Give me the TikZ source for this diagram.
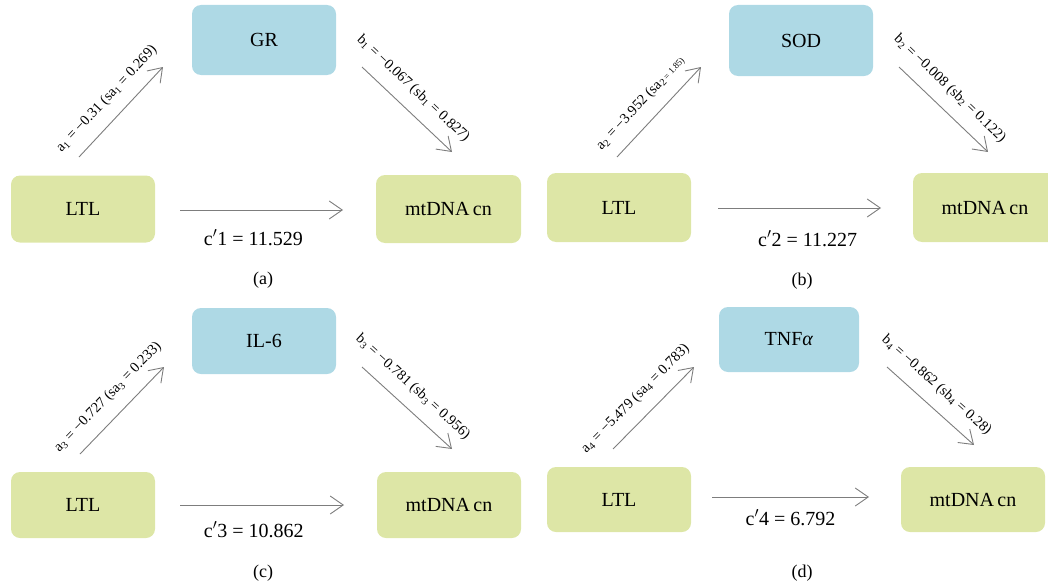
\documentclass[tikz,border=0pt]{standalone}
\usepackage{fontspec}
\setmainfont{Liberation Serif}
\usetikzlibrary{arrows.meta}
\definecolor{boxgreen}{RGB}{221,230,166}
\definecolor{boxblue}{RGB}{174,217,229}
\definecolor{arrgray}{RGB}{125,125,125}

\begin{document}
\begin{tikzpicture}[x=1pt, y=-1pt,
	varbox/.style={fill=boxgreen, rounded corners=9pt, minimum width=144pt, minimum height=67pt, inner sep=0pt, font=\fontsize{20}{24}\selectfont},
	medbox/.style={varbox, fill=boxblue},
	mainarr/.style={draw=arrgray, line width=0.9pt, -{Straight Barb[length=13pt,width=18pt]}},
	coef/.style={font=\fontsize{14.5}{16}\selectfont, sloped, above=9pt},
	direct/.style={font=\fontsize{20}{24}\selectfont},
	panel/.style={font=\fontsize{18}{20}\selectfont}]
		\useasboundingbox (0,0) rectangle (1048,586);
		
		\node[varbox] (ltlA) at (83,209) {LTL};
		\node[medbox, minimum height=70pt] (grA) at (264,40) {GR};
		\node[varbox, minimum width=145pt, minimum height=68pt] (mtA) at (448.5,209) {mtDNA\,cn};
		\coordinate (aA0) at (79,157); \coordinate (aA1) at (163,67);
		\coordinate (bA0) at (362,67); \coordinate (bA1) at (452,152);
		\coordinate (cA0) at (180,210); \coordinate (cA1) at (343,210);
		\draw[mainarr] (aA0) to node[coef] {a\textsubscript{1} = −0.31 (sa\textsubscript{1} = 0.269)} (aA1);
		\draw[mainarr] (bA0) to node[coef, pos=0.42] {b\textsubscript{1} = −0.067 (sb\textsubscript{1} = 0.827)} (bA1);
		\draw[mainarr] (cA0) to node[direct, below=16pt, pos=0.45] {c$'$1 = 11.529} (cA1);
		\node[panel] (labA) at (263,280) {(a)};
		
		\node[varbox, minimum height=69pt] (ltlB) at (619,207.5) {LTL};
		\node[medbox, minimum height=71pt] (sodB) at (801,40.5) {SOD};
		\node[varbox, minimum height=69pt] (mtB) at (985,207.5) {mtDNA\,cn};
		\coordinate (aB0) at (617,157); \coordinate (aB1) at (701,67);
		\coordinate (bB0) at (899,67); \coordinate (bB1) at (988,152);
		\coordinate (cB0) at (718,208); \coordinate (cB1) at (881,208);
		\draw[mainarr] (aB0) to node[coef, pos=0.45] {a\textsubscript{2} = −3.952 (sa\textsubscript{2}{\fontsize{9}{10}\selectfont\,= 1.85)}} (aB1);
		\draw[mainarr] (bB0) to node[coef, pos=0.42] {b\textsubscript{2} = −0.008 (sb\textsubscript{2} = 0.122)} (bB1);
		\draw[mainarr] (cB0) to node[direct, below=19pt, pos=0.55] {c$'$2 = 11.227} (cB1);
		\node[panel] (labB) at (802,281) {(b)};
		
		\node[varbox, minimum height=66pt] (ltlC) at (83,505) {LTL};
		\node[medbox, minimum height=66pt] (ilC) at (264,341) {IL-6};
		\node[varbox, minimum height=66pt] (mtC) at (449,505) {mtDNA\,cn};
		\coordinate (aC0) at (80,454); \coordinate (aC1) at (164,367);
		\coordinate (bC0) at (362,367); \coordinate (bC1) at (452,449);
		\coordinate (cC0) at (180,505); \coordinate (cC1) at (344,505);
		\draw[mainarr] (aC0) to node[coef] {a\textsubscript{3} = −0.727 (sa\textsubscript{3} = 0.233)} (aC1);
		\draw[mainarr] (bC0) to node[coef, pos=0.42] {b\textsubscript{3} = −0.781 (sb\textsubscript{3} = 0.956)} (bC1);
		\draw[mainarr] (cC0) to node[direct, below=13pt, pos=0.45] {c$'$3 = 10.862} (cC1);
		\node[panel] (labC) at (263,573) {(c)};
		
		\node[varbox, minimum height=65pt] (ltlD) at (619,499.5) {LTL};
		\node[medbox, minimum width=140pt, minimum height=65pt] (tnfD) at (789,339.5) {TNF\textit{α}};
		\node[varbox, minimum height=65pt] (mtD) at (973,499.5) {mtDNA\,cn};
		\coordinate (aD0) at (613,449); \coordinate (aD1) at (694,367);
		\coordinate (bD0) at (887,367); \coordinate (bD1) at (974,445);
		\coordinate (cD0) at (712,497); \coordinate (cD1) at (869,497);
		\draw[mainarr] (aD0) to node[coef, pos=0.45] {a\textsubscript{4} = −5.479 (sa\textsubscript{4} = 0.783)} (aD1);
		\draw[mainarr] (bD0) to node[coef, pos=0.42] {b\textsubscript{4} = −0.862 (sb\textsubscript{4} = 0.28)} (bD1);
		\draw[mainarr] (cD0) to node[direct, below=9pt] {c$'$4 = 6.792} (cD1);
		\node[panel] (labD) at (802,573) {(d)};
		
	\end{tikzpicture}
\end{document}
